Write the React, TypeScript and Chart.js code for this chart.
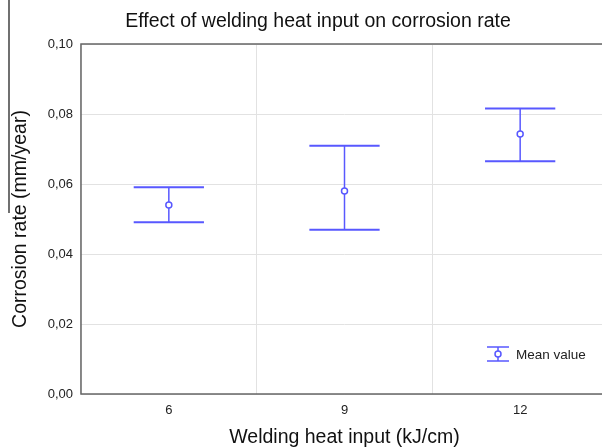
import React, { useEffect, useRef } from "react";
import { Chart, registerables } from "chart.js";

Chart.register(...registerables);

const categories = ["6", "9", "12"];
const meanValues = [0.054, 0.058, 0.0743];
const upperValues = [0.0591, 0.0709, 0.0816];
const lowerValues = [0.0491, 0.0469, 0.0665];
const yTicks = [0, 0.02, 0.04, 0.06, 0.08, 0.1];
const chartTitle = "Effect of welding heat input on corrosion rate";
const legendLabel = "Mean value";

const BLUE = "rgb(88,88,255)";
const FONT = "'Liberation Sans', Arial, sans-serif";

const errorBarPlugin = {
  id: "errorBars",
  beforeDatasetsDraw(chart: any) {
    const { ctx, scales } = chart;
    const x = scales.x;
    const y = scales.y;
    const catW = x.width / categories.length;
    const half = catW * 0.2;
    ctx.save();
    ctx.strokeStyle = BLUE;
    categories.forEach((_, i) => {
      const cx = x.getPixelForValue(i);
      const yu = y.getPixelForValue(upperValues[i]);
      const yl = y.getPixelForValue(lowerValues[i]);
      ctx.lineWidth = 1.5;
      ctx.beginPath();
      ctx.moveTo(cx, yu);
      ctx.lineTo(cx, yl);
      ctx.stroke();
      ctx.lineWidth = 2;
      ctx.beginPath();
      ctx.moveTo(cx - half, yu);
      ctx.lineTo(cx + half, yu);
      ctx.moveTo(cx - half, yl);
      ctx.lineTo(cx + half, yl);
      ctx.stroke();
    });
    ctx.restore();
  },
};

const framePlugin = {
  id: "frameAndLegend",
  afterDraw(chart: any) {
    const { ctx, chartArea } = chart;
    ctx.save();
    // frame
    ctx.strokeStyle = "#666";
    ctx.lineWidth = 1.5;
    ctx.strokeRect(chartArea.left, chartArea.top, chartArea.right - chartArea.left, chartArea.bottom - chartArea.top);
    // artifact line at left edge
    ctx.strokeStyle = "#111";
    ctx.lineWidth = 1.2;
    ctx.beginPath();
    ctx.moveTo(9, 0);
    ctx.lineTo(9, 213);
    ctx.stroke();
    // title
    ctx.fillStyle = "#111";
    ctx.font = `19.5px ${FONT}`;
    ctx.textAlign = "center";
    ctx.textBaseline = "alphabetic";
    ctx.fillText(chartTitle, chart.width / 2, 26.5);
    // legend
    const lx = chartArea.right - 110;
    const ly = chartArea.bottom - 40;
    ctx.strokeStyle = BLUE;
    ctx.lineWidth = 1.5;
    ctx.beginPath();
    ctx.moveTo(lx - 11, ly - 7);
    ctx.lineTo(lx + 11, ly - 7);
    ctx.moveTo(lx - 11, ly + 7);
    ctx.lineTo(lx + 11, ly + 7);
    ctx.moveTo(lx, ly - 7);
    ctx.lineTo(lx, ly + 7);
    ctx.stroke();
    ctx.fillStyle = "#fff";
    ctx.beginPath();
    ctx.arc(lx, ly, 3, 0, Math.PI * 2);
    ctx.fill();
    ctx.stroke();
    ctx.fillStyle = "#222";
    ctx.font = `13.5px ${FONT}`;
    ctx.textAlign = "left";
    ctx.textBaseline = "middle";
    ctx.fillText(legendLabel, lx + 18, ly + 1);
    ctx.restore();
  },
};

export default function App() {
  const ref = useRef<HTMLCanvasElement | null>(null);
  useEffect(() => {
    if (!ref.current) return;
    const chart = new Chart(ref.current, {
      type: "line",
      data: {
        labels: categories,
        datasets: [
          {
            label: legendLabel,
            data: meanValues,
            showLine: false,
            pointRadius: 3,
            pointHoverRadius: 3,
            pointBackgroundColor: "#fff",
            pointBorderColor: BLUE,
            pointBorderWidth: 1.5,
            borderColor: BLUE,
          },
        ],
      },
      options: {
        animation: false,
        responsive: false,
        devicePixelRatio: 1,
        layout: { padding: { left: 0, right: 28, top: 44, bottom: 0 } },
        plugins: {
          legend: { display: false },
          tooltip: { enabled: false },
          title: { display: false },
        },
        scales: {
          x: {
            type: "category",
            offset: true,
            grid: { offset: true, color: "#e2e2e2", drawTicks: false },
            border: { display: false },
            ticks: { color: "#222", padding: 9, font: { family: FONT, size: 13 } },
            title: {
              display: true,
              text: "Welding heat input (kJ/cm)",
              color: "#111",
              font: { family: FONT, size: 19.5, lineHeight: 1 },
              padding: { top: 0, bottom: 1 },
            },
            afterFit(s: any) {
              s.height = 54;
            },
          },
          y: {
            min: 0,
            max: 0.1,
            afterBuildTicks(s: any) {
              s.ticks = yTicks.map((v) => ({ value: v }));
            },
            grid: { color: "#e2e2e2", drawTicks: false },
            border: { display: false },
            ticks: {
              color: "#222",
              padding: 8,
              font: { family: FONT, size: 13 },
              callback: (v: any) => Number(v).toFixed(2).replace(".", ","),
            },
            title: {
              display: true,
              text: "Corrosion rate (mm/year)",
              color: "#111",
              font: { family: FONT, size: 19.5, lineHeight: 1 },
              padding: { top: 11, bottom: 0 },
            },
            afterFit(s: any) {
              s.width = 81;
            },
          },
        },
      },
      plugins: [errorBarPlugin, framePlugin],
    });
    return () => chart.destroy();
  }, []);
  return (
    <div style={{ position: "fixed", left: 0, top: 0, width: 602, height: 448, overflow: "hidden", background: "#fff" }}>
      <canvas ref={ref} width={636} height={448} style={{ display: "block" }} />
    </div>
  );
}
